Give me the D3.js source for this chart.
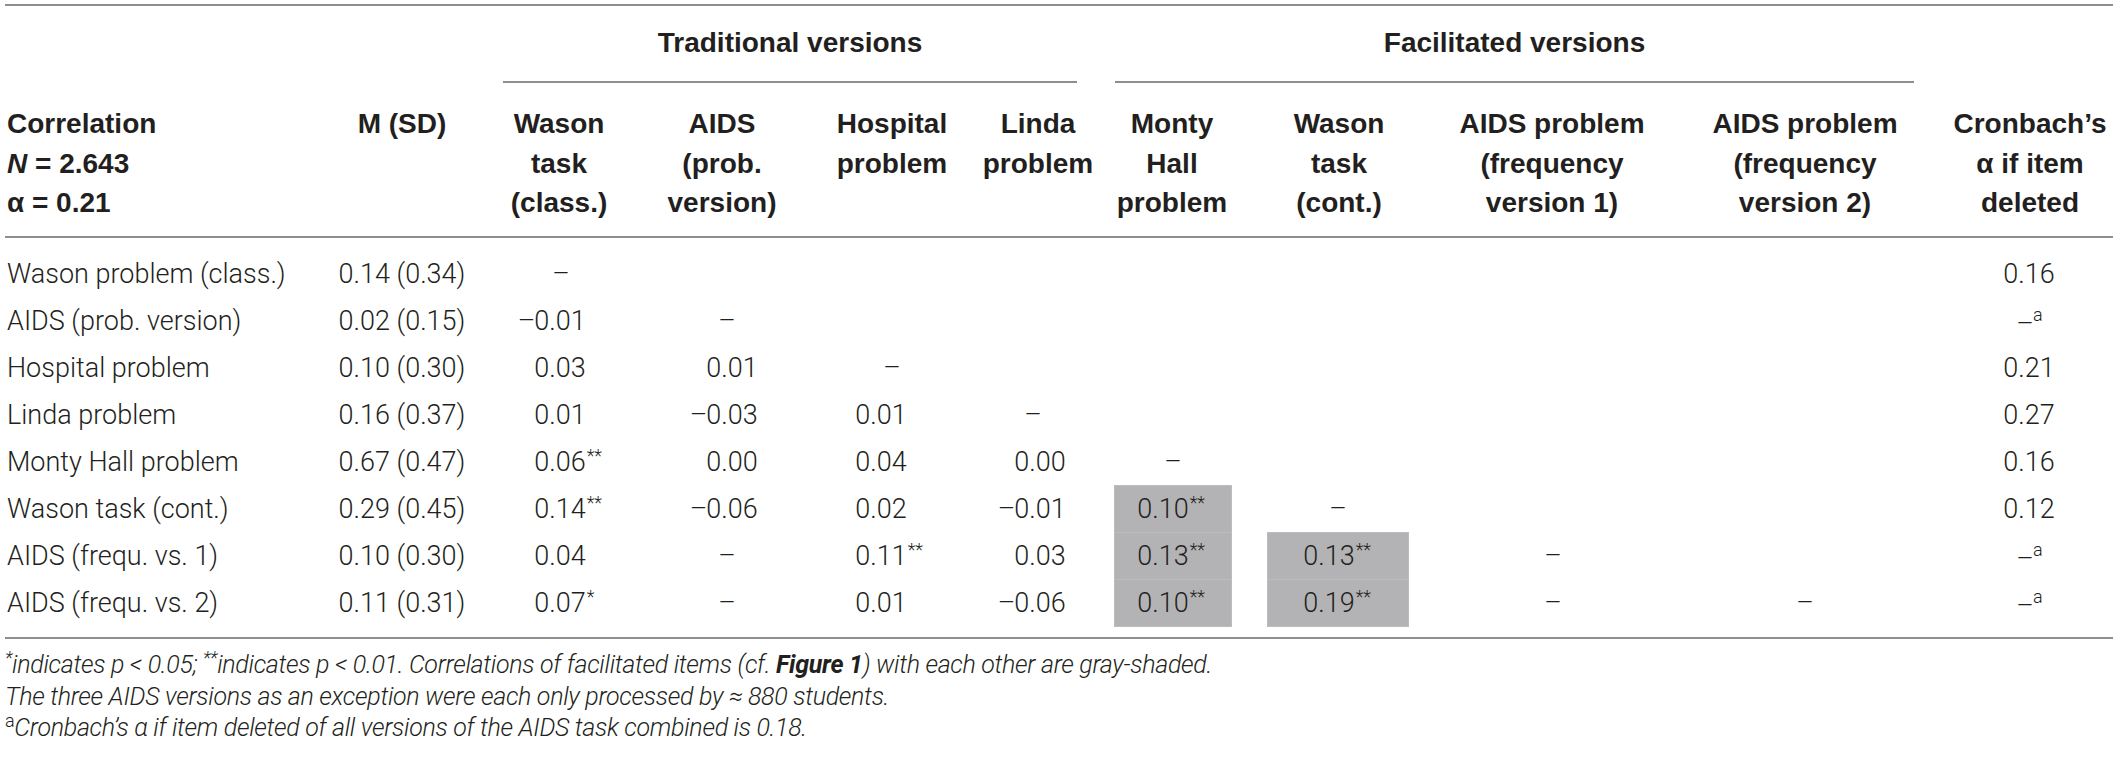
<!DOCTYPE html>
<html lang="en">
<head>
  <meta charset="UTF-8">
  <title>Correlation table</title>
  <style>
    body { margin: 0; background: #fff; }
    svg { display: block; }
    text { fill: #231f20; }
    .head { font: bold 28px "Liberation Sans", Arial, sans-serif; }
    .cell { font: 300 27px Roboto, sans-serif; }
    .sup { font: 300 18px Roboto, sans-serif; }
    .note { font: italic 300 25px Roboto, sans-serif; letter-spacing: -0.3px; }
    .rule { stroke: #8e8e8e; stroke-width: 2; }
    .shade { fill: #b3b3b5; stroke: #bcbcbe; stroke-width: 1; }
  </style>
</head>
<body>
  <svg></svg>
  <script src="https://d3js.org/d3.v7.min.js"></script>
  <script>
    const rowLabels = [
      'Wason problem (class.)', 'AIDS (prob. version)', 'Hospital problem', 'Linda problem',
      'Monty Hall problem', 'Wason task (cont.)', 'AIDS (frequ. vs. 1)', 'AIDS (frequ. vs. 2)'
    ];

    const colKeys = ['msd', 'wason', 'aidsProb', 'hospital', 'linda', 'monty', 'wasonCont', 'aidsFreq1', 'aidsFreq2', 'alpha'];

    const colHeaders = [
      ['M (SD)'],
      ['Wason', 'task', '(class.)'],
      ['AIDS', '(prob.', 'version)'],
      ['Hospital', 'problem'],
      ['Linda', 'problem'],
      ['Monty', 'Hall', 'problem'],
      ['Wason', 'task', '(cont.)'],
      ['AIDS problem', '(frequency', 'version 1)'],
      ['AIDS problem', '(frequency', 'version 2)'],
      ['Cronbach’s', 'α if item', 'deleted']
    ];

    const groupNames = ['Traditional versions', 'Facilitated versions'];

    const means = [0.14, 0.02, 0.10, 0.16, 0.67, 0.29, 0.10, 0.11];
    const sds   = [0.34, 0.15, 0.30, 0.37, 0.47, 0.45, 0.30, 0.31];

    // lower triangle, null = "–"
    const corr = [
      [null],
      [-0.01, null],
      [0.03, 0.01, null],
      [0.01, -0.03, 0.01, null],
      [0.06, 0.00, 0.04, 0.00, null],
      [0.14, -0.06, 0.02, -0.01, 0.10, null],
      [0.04, null, 0.11, 0.03, 0.13, 0.13, null],
      [0.07, null, 0.01, -0.06, 0.10, 0.19, null, null]
    ];

    // number of significance stars per cell
    const stars = [
      [0],
      [0, 0],
      [0, 0, 0],
      [0, 0, 0, 0],
      [2, 0, 0, 0, 0],
      [2, 0, 0, 0, 2, 0],
      [0, 0, 2, 0, 2, 2, 0],
      [1, 0, 0, 0, 2, 2, 0, 0]
    ];

    const alphaIfDeleted = [0.16, null, 0.21, 0.27, 0.16, 0.12, null, null];

    const corrHeader = ['Correlation', 'N = 2.643', 'α = 0.21'];

    const width = 2118, height = 758;
    const svg = d3.select('svg').attr('width', width).attr('height', height);

    // layout scales
    const xHead = d3.scaleOrdinal().domain(colKeys)
      .range([402, 559, 722, 892, 1038, 1172, 1339, 1552, 1805, 2030]);
    const xNum = d3.scaleOrdinal().domain(colKeys)
      .range([402, 560, 732, 881, 1040, 1163, 1329, 1553, 1805, 2029]);
    const xDash = d3.scaleOrdinal().domain(colKeys)
      .range([402, 561, 727, 892, 1033, 1173, 1338, 1553, 1805, 2030]);
    const boxW = d3.scaleOrdinal().domain(colKeys)
      .range([0, 0, 0, 0, 0, 117, 141, 0, 0, 0]);
    const groupSpan = d3.scaleOrdinal().domain(groupNames)
      .range([[503, 1077], [1115, 1914]]);

    const y = d3.scalePoint().domain(d3.range(rowLabels.length)).range([273, 602]);
    const rowStep = y.step();
    const headY = d3.scalePoint().domain([0, 1, 2]).range([133, 212]);

    const fmt = d3.format('.2f');

    // rules
    const rules = [
      {x1: 5, x2: 2113, y: 5},
      {x1: 5, x2: 2113, y: 237},
      {x1: 5, x2: 2113, y: 638}
    ];
    svg.append('g').selectAll('line').data(rules).join('line')
      .attr('class', 'rule')
      .attr('x1', d => d.x1).attr('x2', d => d.x2)
      .attr('y1', d => d.y).attr('y2', d => d.y);

    // group headers
    const grp = svg.append('g').selectAll('g').data(groupNames).join('g');
    grp.append('text')
      .attr('class', 'head')
      .attr('text-anchor', 'middle')
      .attr('x', d => d3.mean(groupSpan(d)))
      .attr('y', 52)
      .text(d => d);
    grp.append('line')
      .attr('class', 'rule')
      .attr('x1', d => groupSpan(d)[0]).attr('x2', d => groupSpan(d)[1])
      .attr('y1', 82).attr('y2', 82);

    // left header
    const ch = svg.append('text').attr('class', 'head');
    ch.selectAll('tspan').data(corrHeader).join('tspan')
      .attr('x', 7)
      .attr('y', (d, i) => headY(i))
      .each(function(d) {
        const t = d3.select(this);
        if (d.startsWith('N ')) {
          t.append('tspan').style('font-style', 'italic').text('N');
          t.append('tspan').text(d.slice(1));
        } else {
          t.text(d);
        }
      });

    // column headers
    const hdr = svg.append('g').selectAll('text').data(colKeys).join('text')
      .attr('class', 'head')
      .attr('text-anchor', 'middle');
    hdr.selectAll('tspan').data((k, i) => colHeaders[i].map(line => ({k, line}))).join('tspan')
      .attr('x', d => xHead(d.k))
      .attr('y', (d, i) => headY(i))
      .text(d => d.line);

    // shaded cells: correlations among facilitated items
    const shaded = [];
    corr.forEach((row, r) => row.forEach((v, c) => {
      if (r >= 4 && c >= 4 && v !== null) shaded.push({r, c});
    }));
    svg.append('g').selectAll('rect').data(shaded).join('rect')
      .attr('class', 'shade')
      .attr('x', d => xDash(colKeys[d.c + 1]) - boxW(colKeys[d.c + 1]) / 2)
      .attr('width', d => boxW(colKeys[d.c + 1]))
      .attr('y', d => y(d.r) - rowStep / 2 + 1)
      .attr('height', rowStep);

    // row labels
    svg.append('g').selectAll('text').data(rowLabels).join('text')
      .attr('class', 'cell')
      .attr('x', 7)
      .attr('y', (d, i) => y(i) + 10)
      .text(d => d);

    // M (SD)
    svg.append('g').selectAll('text').data(means).join('text')
      .attr('class', 'cell')
      .attr('text-anchor', 'middle')
      .attr('x', xNum('msd'))
      .attr('y', (d, i) => y(i) + 10)
      .text((d, i) => fmt(d) + ' (' + fmt(sds[i]) + ')');

    // measure width of a "0.00" core
    const probe = svg.append('text').attr('class', 'cell').text('0.00');
    const coreW = probe.node().getComputedTextLength();
    probe.remove();

    const cells = [];
    corr.forEach((row, r) => row.forEach((v, c) => cells.push({r, c, v, s: stars[r][c], k: colKeys[c + 1]})));
    alphaIfDeleted.forEach((v, r) => cells.push({r, c: 9, v, s: 0, k: 'alpha', foot: v === null}));

    const cg = svg.append('g').selectAll('g').data(cells).join('g');

    cg.filter(d => d.v === null).append('text')
      .attr('class', 'cell')
      .attr('text-anchor', 'middle')
      .attr('x', d => xDash(d.k) - (d.foot ? 5 : 0))
      .attr('y', d => y(d.r) + (d.foot ? 13 : 10))
      .text('–');

    cg.filter(d => d.foot).append('text')
      .attr('class', 'sup')
      .attr('x', d => xDash(d.k) + 3)
      .attr('y', d => y(d.r) + 1)
      .text('a');

    const num = cg.filter(d => d.v !== null);
    num.append('text')
      .attr('class', 'cell')
      .attr('text-anchor', 'middle')
      .attr('x', d => xNum(d.k))
      .attr('y', d => y(d.r) + 10)
      .text(d => fmt(Math.abs(d.v)));
    num.filter(d => d.v < 0).append('text')
      .attr('class', 'cell')
      .attr('text-anchor', 'end')
      .attr('x', d => xNum(d.k) - coreW / 2 + 1)
      .attr('y', d => y(d.r) + 10)
      .text('–');
    num.filter(d => d.s > 0).append('text')
      .attr('class', 'sup')
      .attr('x', d => xNum(d.k) + coreW / 2 + 1)
      .attr('y', d => y(d.r) + 1)
      .text(d => '*'.repeat(d.s));

    // footnotes
    const notes = [
      [{t: '*', sup: true}, {t: 'indicates p < 0.05; '}, {t: '**', sup: true},
       {t: 'indicates p < 0.01. Correlations of facilitated items (cf. '}, {t: 'Figure 1', bold: true},
       {t: ') with each other are gray-shaded.'}],
      [{t: 'The three AIDS versions as an exception were each only processed by ≈ 880 students.'}],
      [{t: 'a', sup: true, upright: true}, {t: 'Cronbach’s α if item deleted of all versions of the AIDS task combined is 0.18.'}]
    ];
    const noteY = d3.scalePoint().domain([0, 1, 2]).range([673, 736]);

    svg.append('g').selectAll('text').data(notes).join('text')
      .attr('class', 'note')
      .attr('x', 5)
      .attr('y', (d, i) => noteY(i))
      .selectAll('tspan').data(d => d).join('tspan')
      .style('font-size', d => d.sup ? '18px' : null)
      .style('font-style', d => d.upright ? 'normal' : null)
      .style('font-weight', d => d.bold ? 'bold' : null)
      .attr('dy', (d, i, n) => {
        const prev = i > 0 ? n[i - 1].__data__ : null;
        const up = d.sup ? -9 : 0;
        const was = prev && prev.sup ? -9 : 0;
        return up - was;
      })
      .text(d => d.t);
  </script>
</body>
</html>
